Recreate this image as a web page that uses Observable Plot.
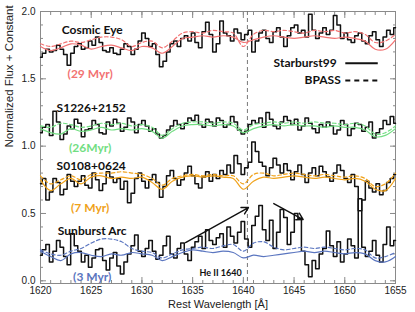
<!DOCTYPE html>
<html><head><meta charset="utf-8">
<script src="https://cdn.jsdelivr.net/npm/d3@7"></script>
<script src="https://cdn.jsdelivr.net/npm/@observablehq/plot@0.6"></script>
<style>
body{margin:0;background:#fff}
#chart svg{display:block}
</style>
</head><body><div id="chart"></div>
<script>
// ---- data ----
const seriesNames = ["Cosmic Eye", "S1226+2152", "S0108+0624", "Sunburst Arc"];
const ageLabels = ["(29 Myr)", "(26Myr)", "(7 Myr)", "(3 Myr)"];
const modelColors = ["#f27272", "#72de82", "#f0a21a", "#5b76c0"];

// observed spectra, sampled every 0.35 Å from 1620 Å
const specStart = 1620, specStep = 0.35;
const cosmicEye = [1.66,1.69,1.72,1.70,1.71,1.75,1.72,1.68,1.60,1.69,
  1.74,1.76,1.72,1.73,1.78,1.75,1.81,1.77,1.71,1.70,
  1.73,1.69,1.68,1.72,1.76,1.74,1.68,1.72,1.78,1.84,
  1.80,1.74,1.76,1.68,1.59,1.63,1.70,1.76,1.78,1.74,
  1.80,1.82,1.78,1.84,1.77,1.73,1.85,1.92,1.83,1.70,
  1.76,1.93,1.84,1.82,1.78,1.87,1.84,1.79,1.83,1.86,
  1.70,1.78,1.84,1.86,1.80,1.77,1.85,1.88,1.81,1.74,
  1.82,1.88,1.90,1.84,1.86,1.81,1.98,1.86,1.80,1.84,
  1.88,1.83,1.86,1.97,1.90,1.80,1.84,1.79,1.77,1.82,
  1.84,1.78,1.76,1.82,1.85,1.79,1.74,1.81,1.86,1.83,1.88];
const s1226 = [1.10,1.14,1.16,1.08,1.26,1.18,1.05,1.09,1.15,1.13,
  1.20,1.17,1.07,1.12,1.13,1.19,1.16,1.10,1.09,1.18,
  1.15,1.20,1.17,1.11,1.14,1.21,1.18,1.10,1.16,1.19,
  1.15,1.11,1.13,1.09,1.06,1.08,1.12,1.15,1.19,1.16,
  1.13,1.17,1.21,1.19,1.23,1.16,1.14,1.20,1.18,1.15,
  1.21,1.19,1.14,1.16,1.22,1.18,1.12,1.09,1.11,1.16,
  1.19,1.17,1.21,1.14,1.25,1.20,1.15,1.13,1.18,1.22,
  1.19,1.16,1.20,1.12,1.15,1.21,1.17,1.13,1.10,1.16,
  1.14,1.18,1.15,1.09,1.12,1.19,1.16,1.08,1.13,1.17,
  1.16,1.11,1.14,1.18,1.06,1.10,1.13,1.19,1.16,1.22,1.17];
const s0108 = [0.72,0.76,0.60,0.66,0.76,0.73,0.64,0.68,0.79,0.74,
  0.70,0.74,0.78,0.71,0.69,0.80,0.75,0.67,0.72,0.81,
  0.77,0.73,0.76,0.68,0.74,0.58,0.65,0.76,0.80,0.74,
  0.69,0.75,0.79,0.73,0.62,0.70,0.78,0.82,0.76,0.71,
  0.75,0.80,0.85,0.78,0.72,0.69,0.77,0.81,0.74,0.79,
  0.76,0.82,0.79,0.86,0.80,0.93,0.87,0.79,0.84,0.88,
  1.03,0.96,0.88,0.85,0.78,0.84,0.91,0.86,0.80,0.87,
  0.82,0.75,0.81,0.86,0.79,0.73,0.80,0.84,0.78,0.85,
  0.81,0.77,0.74,0.80,0.86,0.82,0.76,0.73,0.79,0.70,
  0.52,0.60,0.74,0.69,0.66,0.72,0.64,0.67,0.73,0.76,0.79];
const sunburst = [0.19,0.23,0.27,0.14,0.22,0.30,0.25,0.18,0.12,0.35,
  0.26,0.22,0.14,0.19,0.10,0.17,0.23,0.24,0.15,0.08,
  0.17,0.21,0.11,0.05,0.14,0.20,0.26,0.34,0.22,0.18,
  0.24,0.30,0.22,0.16,0.19,0.26,0.33,0.20,0.17,0.24,
  0.28,0.20,0.15,0.25,0.29,0.33,0.24,0.38,0.30,0.27,
  0.32,0.35,0.25,0.40,0.33,0.28,0.36,0.44,0.31,0.25,
  0.41,0.48,0.56,0.38,0.30,0.45,0.24,0.36,0.53,0.47,
  0.27,0.36,0.50,0.46,0.22,0.12,0.03,0.15,0.09,0.20,
  0.24,0.37,0.26,0.18,0.29,0.14,0.20,0.31,0.26,0.17,
  0.61,0.25,0.18,0.22,0.30,0.19,0.14,0.27,0.40,0.26,0.30];

// model spectra, sampled every 1 Å from 1620 to 1655
const modelWave = [1620,1621,1622,1623,1624,1625,1626,1627,1628,1629,1630,1631,1632,1633,1634,1635,1636,1637,1638,1639,1640,1641,1642,1643,1644,1645,1646,1647,1648,1649,1650,1651,1652,1653,1654,1655];
const ceSB99 = [1.74,1.71,1.73,1.76,1.75,1.72,1.74,1.75,1.73,1.71,1.74,1.73,1.69,1.74,1.80,1.81,1.82,1.81,1.82,1.81,1.77,1.79,1.81,1.82,1.81,1.80,1.81,1.82,1.81,1.80,1.81,1.80,1.78,1.72,1.72,1.79];
const ceBPASS = [1.76,1.74,1.76,1.78,1.77,1.79,1.81,1.81,1.79,1.74,1.77,1.78,1.73,1.78,1.84,1.85,1.84,1.86,1.85,1.84,1.74,1.83,1.86,1.85,1.86,1.85,1.84,1.86,1.85,1.86,1.84,1.85,1.83,1.77,1.78,1.83];
const s1226SB99 = [1.13,1.10,1.09,1.13,1.11,1.12,1.14,1.12,1.13,1.12,1.13,1.11,1.06,1.11,1.15,1.16,1.16,1.15,1.16,1.15,1.10,1.13,1.15,1.16,1.15,1.16,1.15,1.15,1.14,1.15,1.14,1.14,1.12,1.07,1.08,1.13];
const s1226BPASS = [1.15,1.14,1.17,1.16,1.14,1.15,1.17,1.16,1.17,1.15,1.16,1.14,1.08,1.13,1.17,1.18,1.18,1.17,1.18,1.17,1.12,1.16,1.17,1.18,1.17,1.18,1.17,1.18,1.17,1.17,1.16,1.17,1.15,1.09,1.10,1.15];
const s0108SB99 = [0.75,0.67,0.72,0.76,0.72,0.77,0.78,0.76,0.77,0.76,0.77,0.73,0.68,0.74,0.77,0.78,0.77,0.78,0.77,0.76,0.68,0.74,0.77,0.76,0.77,0.78,0.77,0.76,0.77,0.76,0.75,0.76,0.74,0.68,0.67,0.76];
const s0108BPASS = [0.78,0.72,0.75,0.78,0.75,0.79,0.80,0.80,0.81,0.80,0.79,0.76,0.71,0.76,0.78,0.79,0.78,0.79,0.78,0.78,0.72,0.79,0.80,0.78,0.79,0.80,0.79,0.78,0.79,0.78,0.77,0.78,0.76,0.70,0.72,0.80];
const sunSB99 = [0.22,0.18,0.15,0.20,0.21,0.19,0.18,0.20,0.19,0.21,0.20,0.19,0.15,0.18,0.21,0.23,0.22,0.21,0.22,0.21,0.17,0.19,0.18,0.19,0.20,0.21,0.22,0.21,0.22,0.21,0.20,0.21,0.20,0.15,0.14,0.18];
const sunBPASS = [0.23,0.20,0.19,0.22,0.24,0.28,0.31,0.31,0.29,0.24,0.22,0.21,0.17,0.20,0.23,0.24,0.25,0.24,0.26,0.27,0.22,0.28,0.29,0.25,0.23,0.24,0.25,0.24,0.25,0.24,0.23,0.24,0.23,0.17,0.18,0.21];

const heII = 1640.4;
// annotation arrows (data units)
const arrowX1 = [1634.3, 1643.0], arrowY1 = [0.284, 0.574];
const arrowX2 = [1640.5, 1645.9], arrowY2 = [0.544, 0.455];
// label anchors (data units)
const nameX = [1625.1, 1625.0, 1625.0, 1625.1], nameY = [1.859, 1.280, 0.849, 0.366];
const ageX = [1624.9, 1624.9, 1624.9, 1625.1], ageY = [1.531, 0.982, 0.537, 0.025];
const legendNames = ["Starburst99", "BPASS"];
const xMajor = [1620,1625,1630,1635,1640,1645,1650,1655];
const xMinor = d3.range(1620, 1656, 1);
const yMajor = [0, 0.5, 1.0, 1.5, 2.0];
const yMinor = d3.range(0, 21).map(i => i / 10);

// ---- tables ----
const spectra = [cosmicEye, s1226, s0108, sunburst];
const sb99 = [ceSB99, s1226SB99, s0108SB99, sunSB99];
const bpass = [ceBPASS, s1226BPASS, s0108BPASS, sunBPASS];
const specRows = spectra.flatMap((arr, k) => arr.map((v, i) => ({s: seriesNames[k], w: specStart + specStep * i, v})));
const sbRows = sb99.flatMap((arr, k) => arr.map((v, i) => ({s: seriesNames[k], w: modelWave[i], v})));
const bpRows = bpass.flatMap((arr, k) => arr.map((v, i) => ({s: seriesNames[k], w: modelWave[i], v})));
const arrows = arrowX1.map((x, i) => ({x1: x, y1: arrowY1[i], x2: arrowX2[i], y2: arrowY2[i]}));
const nameRows = seriesNames.map((t, i) => ({t, x: nameX[i], y: nameY[i]}));
const ageRows = ageLabels.map((t, i) => ({t, s: seriesNames[i], x: ageX[i], y: ageY[i]}));
const legendRows = [
  {t: legendNames[0], x: 1649.2, y: 1.615, x1: 1650.1, x2: 1653.3},
  {t: legendNames[1], x: 1649.6, y: 1.487, x1: 1650.1, x2: 1653.3}
];

const labFont = "Lato, 'Open Sans', sans-serif";
const axisGrey = "#8a8a8a";

const chart = Plot.plot({
  width: 415, height: 312,
  marginLeft: 40, marginRight: 20, marginTop: 11, marginBottom: 29,
  x: {domain: [1620, 1655]},
  y: {domain: [-0.02, 2.0]},
  color: {domain: seriesNames, range: modelColors},
  style: {fontFamily: "'Liberation Sans', Arial, sans-serif", fontSize: "10px", color: "#222", background: "#fff"},
  marks: [
    // axes: inward ticks on all four sides
    Plot.axisX(xMinor, {anchor: "bottom", tickSize: -3, tickFormat: () => "", stroke: axisGrey, label: null}),
    Plot.axisX(xMajor, {anchor: "bottom", tickSize: -6, tickFormat: () => "", stroke: axisGrey, label: null}),
    Plot.axisX(xMinor, {anchor: "top", tickSize: -3, tickFormat: () => "", stroke: axisGrey, label: null}),
    Plot.axisX(xMajor, {anchor: "top", tickSize: -6, tickFormat: () => "", stroke: axisGrey, label: null}),
    Plot.axisX(xMajor, {anchor: "bottom", tickSize: 0, tickPadding: 3, tickFormat: d => String(d), label: null, fontSize: 10}),
    Plot.axisY(yMinor, {anchor: "left", tickSize: -3, tickFormat: () => "", stroke: axisGrey, label: null}),
    Plot.axisY(yMajor, {anchor: "left", tickSize: -6, tickFormat: () => "", stroke: axisGrey, label: null}),
    Plot.axisY(yMinor, {anchor: "right", tickSize: -3, tickFormat: () => "", stroke: axisGrey, label: null}),
    Plot.axisY(yMajor, {anchor: "right", tickSize: -6, tickFormat: () => "", stroke: axisGrey, label: null}),
    Plot.axisY(yMajor, {anchor: "left", tickSize: 0, tickPadding: 5, tickFormat: d3.format(".1f"), label: null, fontSize: 10}),
    Plot.frame({stroke: axisGrey}),
    Plot.text(["Rest Wavelength [Å]"], {frameAnchor: "bottom", dy: 24, fontSize: 11, fill: "#222"}),
    Plot.text(["Normalized Flux + Constant"], {frameAnchor: "left", dx: -31, rotate: -90, fontSize: 11.5, fill: "#222"}),
    // He II line
    Plot.ruleX([heII], {stroke: "#777", strokeDasharray: "4,3", strokeWidth: 1}),
    // observed spectra
    Plot.line(specRows, {x: "w", y: "v", z: "s", stroke: "#111", strokeWidth: 1.5, curve: "step"}),
    // models
    Plot.line(bpRows, {x: "w", y: "v", z: "s", stroke: "s", strokeWidth: 1.2, strokeDasharray: "3.5,2.5", curve: "catmull-rom"}),
    Plot.line(sbRows, {x: "w", y: "v", z: "s", stroke: "s", strokeWidth: 1.2, curve: "catmull-rom"}),
    // arrows
    Plot.arrow(arrows, {x1: "x1", y1: "y1", x2: "x2", y2: "y2", stroke: "#111", strokeWidth: 1.4, headLength: 8}),
    // labels
    Plot.text(nameRows, {x: "x", y: "y", text: "t", fontWeight: 700, fontSize: 12, fontFamily: labFont, fill: "#111"}),
    Plot.text(ageRows, {x: "x", y: "y", text: "t", fill: "s", fontWeight: 700, fontSize: 12, fontFamily: labFont}),
    Plot.text(["He II 1640"], {x: 1637.75, y: 0.054, fontWeight: 700, fontSize: 9, fontFamily: labFont, fill: "#111"}),
    // legend
    Plot.text(legendRows, {x: "x", y: "y", text: "t", textAnchor: "end", fontWeight: 700, fontSize: 12, fontFamily: labFont, fill: "#111"}),
    Plot.ruleY([legendRows[0]], {y: "y", x1: "x1", x2: "x2", stroke: "#111", strokeWidth: 2}),
    Plot.ruleY([legendRows[1]], {y: "y", x1: "x1", x2: "x2", stroke: "#111", strokeWidth: 2, strokeDasharray: "5,4"})
  ]
});
document.getElementById("chart").append(chart);
</script></body></html>
